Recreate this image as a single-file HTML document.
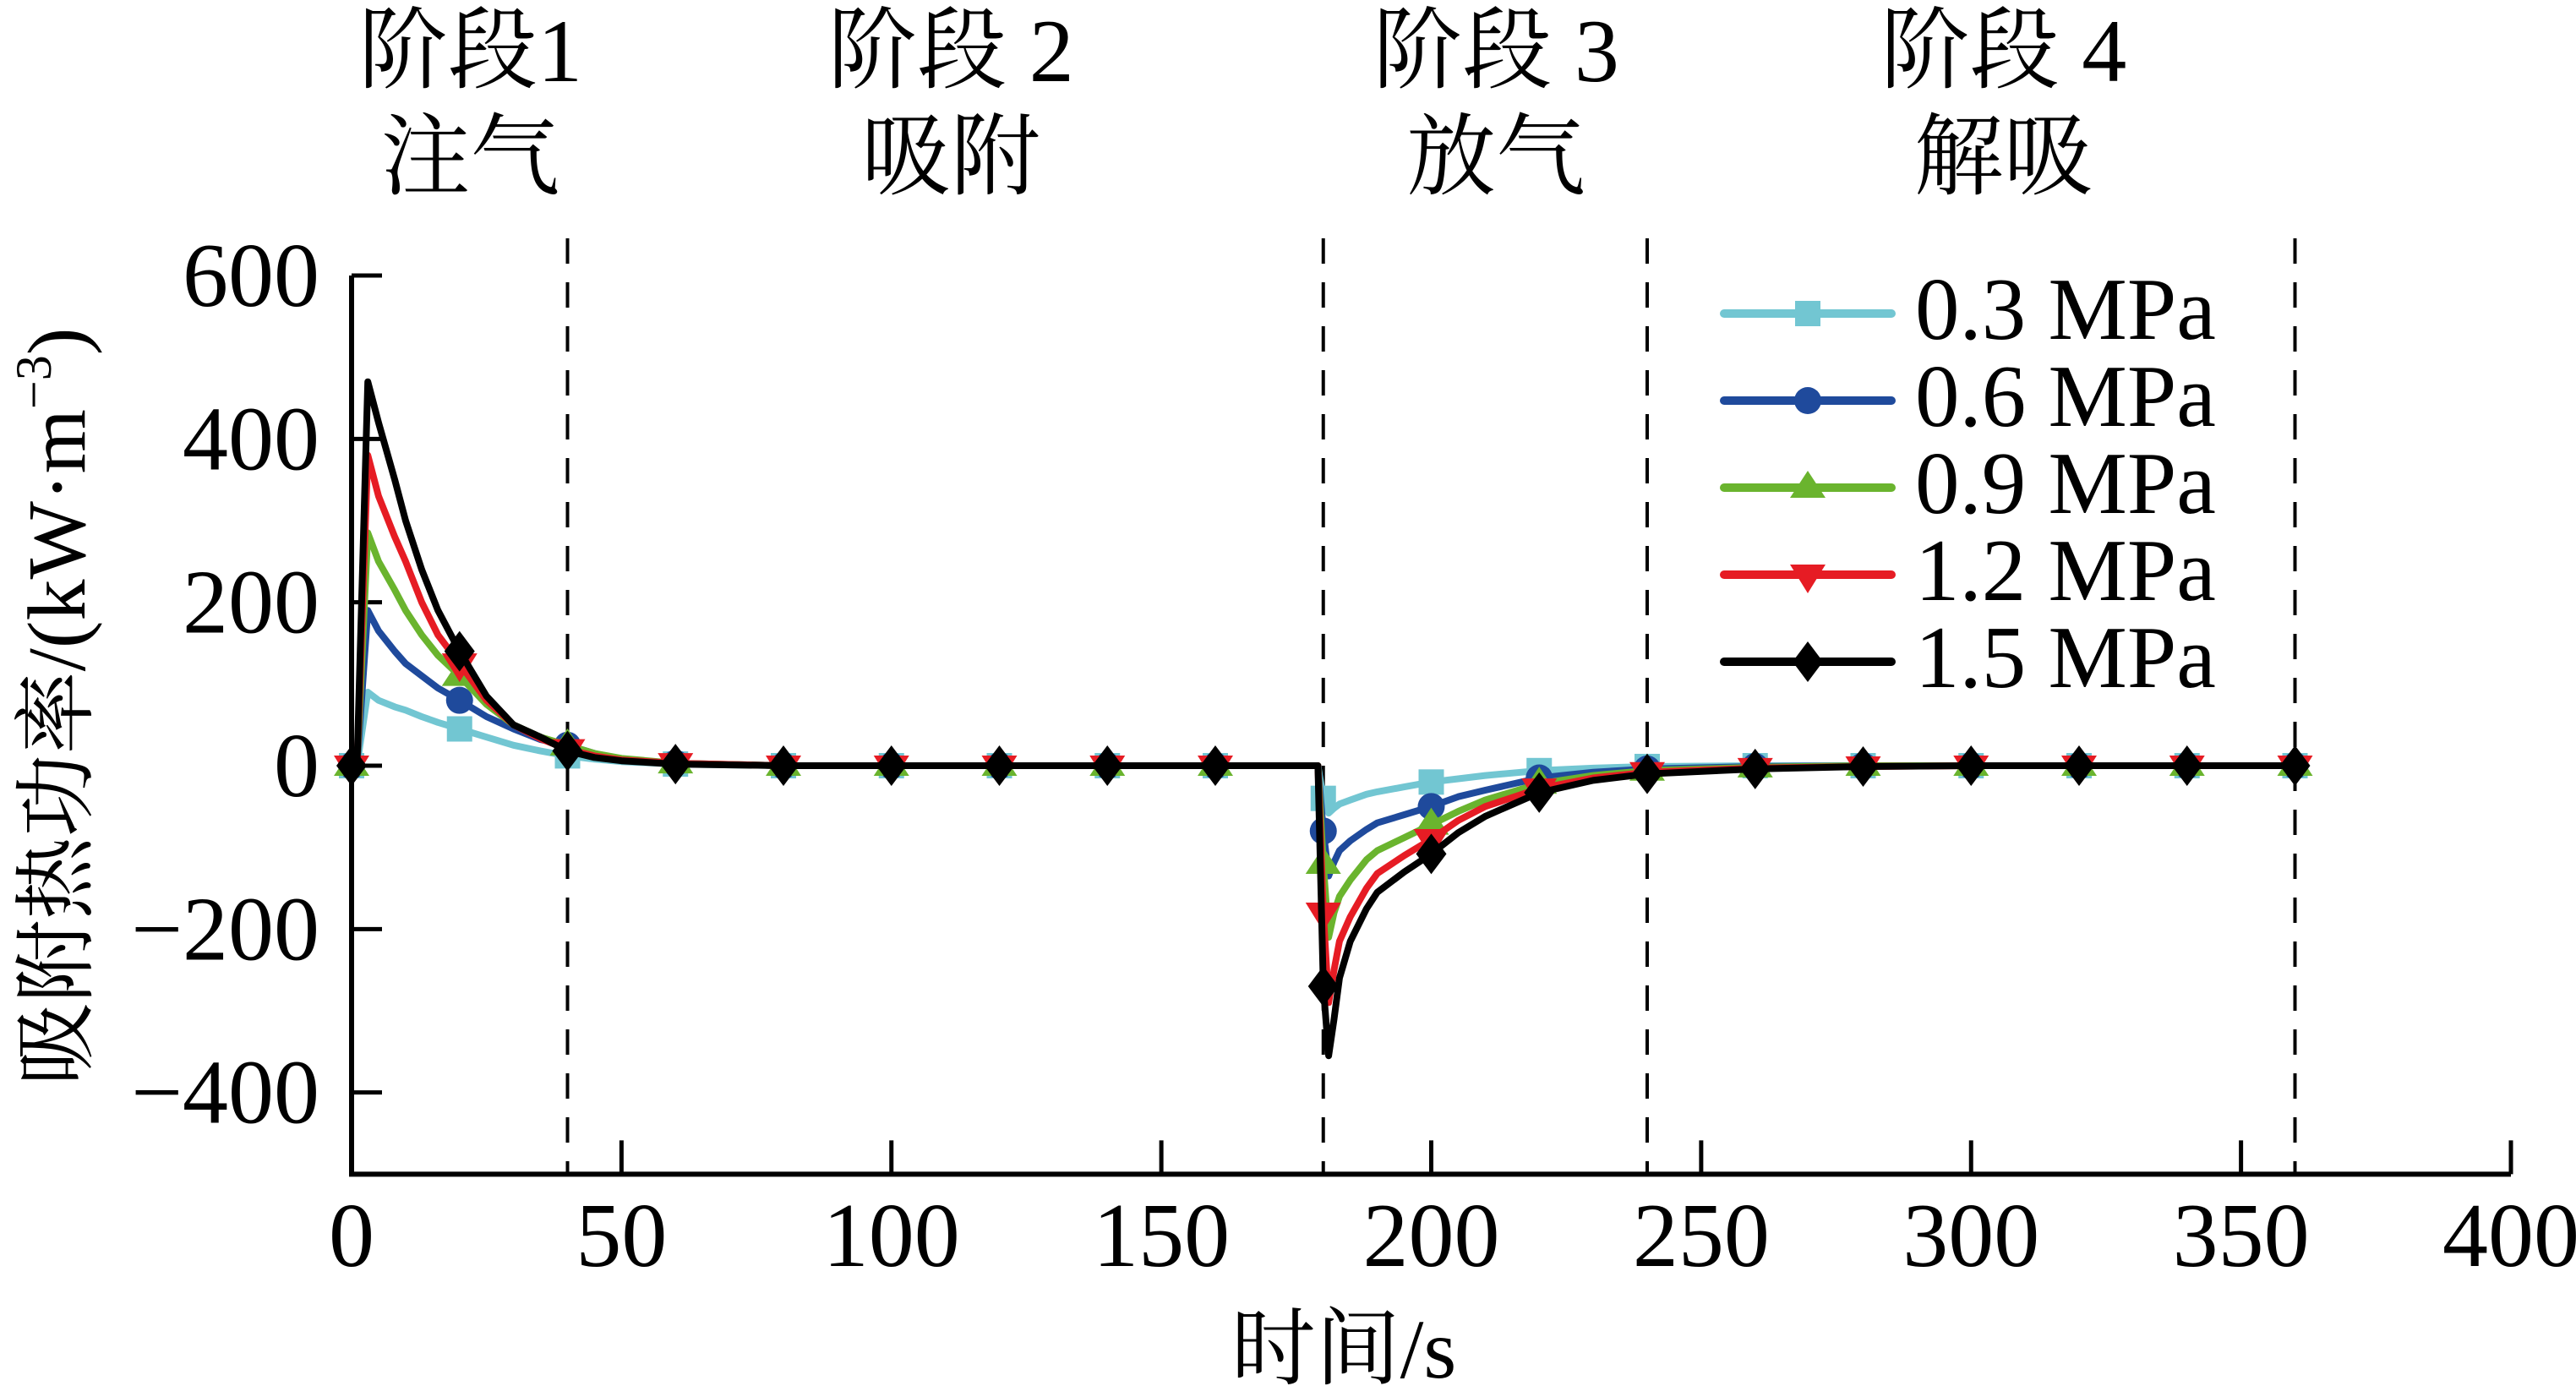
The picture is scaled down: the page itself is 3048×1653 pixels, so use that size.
<!DOCTYPE html>
<html><head><meta charset="utf-8"><style>
html,body{margin:0;padding:0;background:#fff;}
svg{display:block;}
text{font-family:"Liberation Serif","Times New Roman","Noto Serif CJK SC","Noto Sans CJK SC",serif;fill:#000;}
</style></head><body>
<svg id="chart" width="3048" height="1653" viewBox="0 0 3048 1653" xmlns="http://www.w3.org/2000/svg">
<g id="axes"></g>
<g id="plot"></g>
<g id="legend"></g>
<text transform="translate(100,836) rotate(-90)" text-anchor="middle" font-size="98">吸附热功率/(kW·m<tspan font-size="60" dy="-40">−3</tspan><tspan dy="40">)</tspan></text>
<text x="1590" y="1630" text-anchor="middle" font-size="100">时间/s</text>
</svg>
<script>
const times = [0,1,3,5,8,10,13,16,20,25,30,35,40,45,50,60,80,100,120,140,160,179,180,181,182,183,185,188,190,195,200,205,210,220,230,240,260,280,300,320,340,360];
const s03 = [0,0,90,80,72,68,60,53,45,35,25,18,12,8,5,2,0,0,0,0,0,0,-40,-58,-52,-47,-42,-35,-32,-26,-20,-16,-12,-6,-3,-1,0,0,0,0,0,0];
const s06 = [0,0,190,165,140,125,110,95,80,60,45,32,25,15,8,3,0,0,0,0,0,0,-80,-135,-118,-104,-92,-78,-70,-60,-50,-38,-30,-15,-8,-4,-1,0,0,0,0,0];
const s09 = [0,0,285,250,215,190,160,135,110,75,50,35,25,15,9,3,0,0,0,0,0,0,-120,-210,-180,-160,-140,-115,-104,-88,-72,-56,-42,-22,-12,-6,-2,0,0,0,0,0];
const s12 = [0,0,380,330,280,250,200,160,125,80,50,33,20,12,7,3,0,0,0,0,0,0,-180,-290,-250,-215,-185,-150,-132,-110,-90,-67,-50,-28,-15,-8,-3,-1,0,0,0,0];
const s15 = [0,0,470,420,350,300,240,190,140,85,50,35,18,10,6,2,0,0,0,0,0,0,-270,-355,-310,-260,-215,-175,-155,-130,-108,-82,-62,-33,-18,-10,-4,-1,0,0,0,0];
const seriesNames = ["0.3 MPa","0.6 MPa","0.9 MPa","1.2 MPa","1.5 MPa"];
const xTicks = [0,50,100,150,200,250,300,350,400];
const yTicks = [-400,-200,0,200,400,600];
const yTickLabels = ["−400","−200","0","200","400","600"];
const phaseBounds = [40,180,240,360];
const phaseTitles = [["阶段1","注气",22],["阶段 2","吸附",111],["阶段 3","放气",212],["阶段 4","解吸",306]];

const NS="http://www.w3.org/2000/svg";
const X=t=>416+t*6.3875;
const Y=v=>906-v*0.9667;
function mk(tag,attrs,parent){const e=document.createElementNS(NS,tag);for(const k in attrs)e.setAttribute(k,attrs[k]);parent.appendChild(e);return e;}
const axes=document.getElementById('axes'),plot=document.getElementById('plot'),leg=document.getElementById('legend');

let a=mk('path',{d:`M${X(0)},${Y(600)} L${X(0)},${Y(-500)} L${X(400)},${Y(-500)}`,fill:'none',stroke:'#000','stroke-width':6},axes);


yTicks.forEach((v,i)=>{
  let l=mk('line',{x1:X(0),x2:X(0)+36,y1:Y(v),y2:Y(v),stroke:'#000','stroke-width':5},axes);
  
  
  let t=mk('text',{x:378,y:Y(v)+36,'text-anchor':'end','font-size':108},axes);
  
  
  t.textContent=yTickLabels[i];
});
let topT=mk('line',{x1:X(0),x2:X(0)+36,y1:Y(600),y2:Y(600),stroke:'#000','stroke-width':5},axes);


xTicks.forEach(v=>{
  let l=mk('line',{x1:X(v),x2:X(v),y1:Y(-500),y2:Y(-500)-40,stroke:'#000','stroke-width':5},axes);
  
  
  let t=mk('text',{x:X(v),y:1498,'text-anchor':'middle','font-size':108},axes);
  
  
  t.textContent=v;
});
phaseBounds.forEach(v=>{
  let l=mk('line',{x1:X(v),x2:X(v),y1:282,y2:Y(-500),stroke:'#000','stroke-width':4,'stroke-dasharray':'30,22'},axes);
  
  
});
phaseTitles.forEach(p=>{
  let t=mk('text',{x:X(p[2]),y:96,'text-anchor':'middle','font-size':106},axes);
  
  
  t.textContent=p[0];
  let t2=mk('text',{x:X(p[2]),y:222,'text-anchor':'middle','font-size':106},axes);
  
  
  t2.textContent=p[1];
});

const colors=['#72c6d2','#1f4a9c','#6ab42e','#e61c24','#000000'];
const shapes=['square','circle','up','down','diamond'];
const data=[s03,s06,s09,s12,s15];
function marker(shape,cx,cy,c,parent){
  let e;
  if(shape==='square')e=mk('rect',{x:cx-15,y:cy-15,width:30,height:30,fill:c},parent);
  else if(shape==='circle')e=mk('ellipse',{cx:cx,cy:cy,rx:16,ry:16,fill:c},parent);
  else if(shape==='up')e=mk('polygon',{points:`${cx},${cy-20} ${cx+21},${cy+12} ${cx-21},${cy+12}`,fill:c},parent);
  else if(shape==='down')e=mk('polygon',{points:`${cx},${cy+22} ${cx+21},${cy-12} ${cx-21},${cy-12}`,fill:c},parent);
  else e=mk('polygon',{points:`${cx},${cy-24} ${cx+18},${cy} ${cx},${cy+24} ${cx-18},${cy}`,fill:c},parent);
  return e;
}
data.forEach((s,k)=>{
  const g=mk('g',{},plot);
  
  
  let d=times.map((t,i)=>(i?'L':'M')+X(t).toFixed(1)+','+Y(s[i]).toFixed(1)).join(' ');
  let p=mk('path',{d:d,fill:'none',stroke:colors[k],'stroke-width':8,'stroke-linejoin':'round'},g);
  
  
  times.forEach((t,i)=>{
    if(t%20===0){
      let m=marker(shapes[k],X(t),Y(s[i]),colors[k],g);
      
      
    }
  });
  const ly=371+k*103;
  const lg=mk('g',{},leg);
  
  
  mk('line',{x1:2040,x2:2238,y1:ly,y2:ly,stroke:colors[k],'stroke-width':10,'stroke-linecap':'round'},lg);
  marker(shapes[k],2139,ly,colors[k],lg);
  let t=mk('text',{x:2266,y:ly+30,'font-size':105},lg);
  
  
  t.textContent=seriesNames[k];
});
</script>
</body></html>
